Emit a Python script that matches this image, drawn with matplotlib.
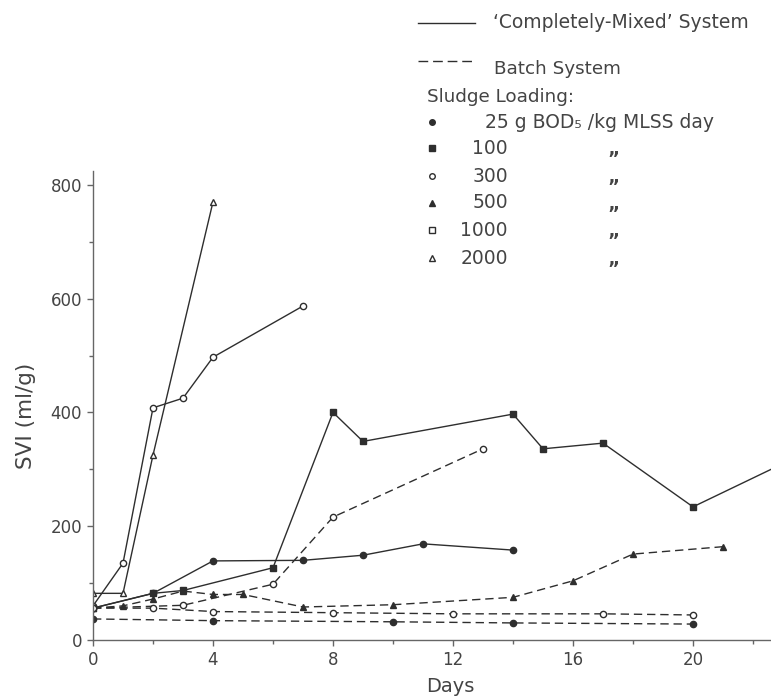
import matplotlib
matplotlib.use("Agg")
import matplotlib.pyplot as plt
from matplotlib.lines import Line2D

plt.rcParams['font.family'] = ['DejaVu Sans']

INK = '#2e2e2e'
TXT = '#444444'

# ---- data (day, SVI ml/g) ----
# completely-mixed (solid)
cm_2000_days = [0, 1, 2, 4]
cm_2000_svi = [82, 82, 325, 770]
cm_300_days = [0, 1, 2, 3, 4, 7]
cm_300_svi = [60, 135, 408, 425, 497, 587]
cm_25_days = [0, 2, 4, 7, 9, 11, 14]
cm_25_svi = [56, 82, 139, 140, 149, 169, 158]
cm_100_days = [0, 2, 3, 6, 8, 9, 14, 15, 17, 20, 23]
cm_100_svi = [56, 82, 87, 127, 400, 349, 397, 336, 346, 234, 310]

# batch (dashed)
b_300_days = [0, 3, 6, 8, 13]
b_300_svi = [56, 61, 98, 216, 336]
b_500_days = [0, 1, 2, 3, 4, 5, 7, 10, 14, 16, 18, 21]
b_500_svi = [56, 60, 72, 86, 80, 80, 58, 62, 75, 104, 151, 164]
b_1000_days = [0, 2, 4, 8, 12, 17, 20]
b_1000_svi = [56, 56, 50, 48, 46, 46, 44]
b_25_days = [0, 4, 10, 14, 20]
b_25_svi = [37, 34, 32, 30, 28]

loadings = ['25 g BOD\u2085 /kg MLSS day', '100', '300', '500', '1000', '2000']
load_markers = ['o', 's', 'o', '^', 's', '^']
load_filled = [True, True, False, True, False, False]

W, H = 771, 699
fig = plt.figure(figsize=(W / 100, H / 100), dpi=100)
fig.patch.set_facecolor('white')


def px(x, y):
    return x / W, 1 - y / H


# axes: day 0 at x=93, 30 px/day; SVI 0 at y=640, 0.569 px/unit
ax = fig.add_axes([93 / W, 59 / H, 678 / W, 825 * 0.569 / H])
ax.set_xlim(0, 22.6)
ax.set_ylim(0, 825)


def series(d, v, ls, marker, filled):
    ax.plot(d, v, color=INK, lw=1.0, ls=ls, dashes=(6, 3.5) if ls == '--' else (None, None),
            marker=marker, ms=4.5, mew=1.0, mec=INK,
            mfc=INK if filled else 'white', clip_on=True)


series(cm_2000_days, cm_2000_svi, '-', '^', False)
series(cm_300_days, cm_300_svi, '-', 'o', False)
series(cm_25_days, cm_25_svi, '-', 'o', True)
series(cm_100_days, cm_100_svi, '-', 's', True)
series(b_300_days, b_300_svi, '--', 'o', False)
series(b_500_days, b_500_svi, '--', '^', True)
series(b_1000_days, b_1000_svi, '--', 'o', False)
series(b_25_days, b_25_svi, '--', 'o', True)

for s in ['top', 'right']:
    ax.spines[s].set_visible(False)
for s in ['left', 'bottom']:
    ax.spines[s].set_color('#666666')
    ax.spines[s].set_linewidth(1.0)

ax.set_xticks([0, 4, 8, 12, 16, 20])
ax.set_xticks([2, 6, 10, 14, 18, 22], minor=True)
ax.set_yticks([0, 200, 400, 600, 800])
ax.set_yticks([100, 300, 500, 700], minor=True)
ax.tick_params(axis='both', which='major', length=4, width=1, color='#666666',
               labelsize=12, labelcolor=TXT, pad=4)
ax.tick_params(axis='both', which='minor', length=3, width=1, color='#666666')

fig.text(*px(26, 416), 'SVI (ml/g)', rotation=90, ha='center', va='center',
         fontsize=15.5, color=TXT)
fig.text(*px(450, 687), 'Days', ha='center', va='center', fontsize=14, color=TXT)

# ---- legend drawn by hand ----
fig.add_artist(Line2D([418 / W, 475 / W], [1 - 23 / H, 1 - 23 / H], color=INK, lw=1.0))
fig.text(*px(493, 22), '\u2018Completely-Mixed\u2019 System', ha='left', va='center',
         fontsize=13.5, color=TXT)
fig.add_artist(Line2D([418 / W, 475 / W], [1 - 61 / H, 1 - 61 / H], color=INK, lw=1.0,
                      ls='--', dashes=(7, 3.5)))
fig.text(*px(494, 69), 'Batch System', ha='left', va='center', fontsize=13.2, color=TXT)
fig.text(*px(427, 97), 'Sludge Loading:', ha='left', va='center', fontsize=13.2, color=TXT)

row_y = [122, 148, 176, 203, 230, 258]
for i, (lab, m, f) in enumerate(zip(loadings, load_markers, load_filled)):
    y = row_y[i]
    fig.add_artist(Line2D([432 / W], [1 - y / H], marker=m, ms=4, mew=1.0, mec=INK,
                          mfc=INK if f else 'white', ls='none'))
    if i == 0:
        fig.text(*px(485, y), lab, ha='left', va='center', fontsize=13.5, color=TXT)
    else:
        fig.text(*px(508, y), lab, ha='right', va='center', fontsize=13.5, color=TXT)
        fig.text(*px(613, y + 11), '\u201d', ha='center', va='center', fontsize=13,
                 color=TXT, fontweight='bold')

fig.savefig('out.png', dpi=100)
